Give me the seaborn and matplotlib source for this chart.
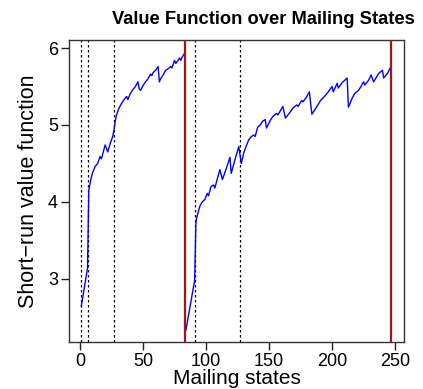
import matplotlib
matplotlib.use("Agg")
import matplotlib.pyplot as plt
import seaborn as sns
import pandas as pd

# First mailing block: state index and short-run value
seg1_state = [1, 6, 7, 8, 9, 10, 12, 14, 16, 17, 18, 20, 22, 24, 26, 27, 28, 29, 31, 33,
              35, 37, 38, 40, 42, 44, 46, 47, 48, 50, 52, 54, 56, 57, 58, 60, 62, 63, 64, 66,
              68, 70, 72, 73, 75, 76, 77, 79, 80, 81, 83]
seg1_value = [2.64, 3.14, 4.15, 4.24, 4.32, 4.38, 4.46, 4.50, 4.59, 4.56, 4.62, 4.74, 4.65, 4.76,
              4.85, 4.94, 5.05, 5.13, 5.22, 5.28, 5.33, 5.37, 5.33, 5.41, 5.46, 5.50, 5.56, 5.47,
              5.45, 5.51, 5.56, 5.60, 5.66, 5.64, 5.68, 5.71, 5.76, 5.56, 5.60, 5.65, 5.71, 5.73,
              5.76, 5.74, 5.84, 5.80, 5.82, 5.87, 5.84, 5.88, 5.93]

# Second mailing block
seg2_state = [84, 91, 92, 93, 95, 97, 99, 101, 102, 104, 106, 107, 109, 111, 113, 116, 119, 120,
              123, 126, 128, 130, 132, 134, 136, 138, 139, 141, 143, 145, 147, 148, 151, 153, 156,
              157, 161, 163, 166, 169, 172, 173, 176, 177, 180, 182, 184, 188, 191, 194, 197, 200,
              201, 204, 205, 208, 210, 212, 213, 216, 218, 221, 223, 225, 226, 229, 231, 233, 237,
              240, 241, 244, 247]
seg2_value = [2.33, 2.98, 3.74, 3.82, 3.94, 4.00, 4.03, 4.11, 4.08, 4.20, 4.22, 4.18, 4.30, 4.42,
              4.29, 4.43, 4.58, 4.37, 4.55, 4.72, 4.50, 4.64, 4.73, 4.81, 4.85, 4.87, 4.85, 4.97,
              5.00, 5.05, 5.07, 4.96, 5.06, 5.11, 5.15, 5.13, 5.24, 5.09, 5.15, 5.22, 5.26, 5.24,
              5.32, 5.30, 5.37, 5.43, 5.14, 5.24, 5.32, 5.37, 5.43, 5.50, 5.43, 5.54, 5.48, 5.55,
              5.58, 5.61, 5.23, 5.35, 5.41, 5.45, 5.50, 5.56, 5.52, 5.58, 5.65, 5.56, 5.67, 5.71,
              5.61, 5.67, 5.77]

# Marker positions within the state space
dotted_states = [1, 6, 27, 91, 127]
block_ends = [83, 247]

x_ticks = [0, 50, 100, 150, 200, 250]
y_ticks = [3, 4, 5, 6]

sns.set_theme(style="white")
plt.rcParams["font.family"] = ["Liberation Sans", "DejaVu Sans"]
plt.rcParams.update({"text.color": "black", "axes.labelcolor": "black",
                     "xtick.color": "black", "ytick.color": "black"})

fig = plt.figure(figsize=(4.23, 3.89), dpi=100)
ax = fig.add_axes([69 / 423, 1 - 342 / 389, (404 - 69) / 423, (342 - 40) / 389])

for xv in dotted_states:
    ax.axvline(xv, color="black", lw=0.9, linestyle=(0, (2, 2)), zorder=1)

df1 = pd.DataFrame({"state": seg1_state, "value": seg1_value})
df2 = pd.DataFrame({"state": seg2_state, "value": seg2_value})
sns.lineplot(data=df1, x="state", y="value", ax=ax, color="#0000ff", lw=1.0,
             estimator=None, sort=False, zorder=2)
sns.lineplot(data=df2, x="state", y="value", ax=ax, color="#0000ff", lw=1.0,
             estimator=None, sort=False, zorder=2)

for xv in block_ends:
    ax.axvline(xv, color="#a31414", lw=1.6, zorder=3)

ax.set_xlim(-8.7, 257.1)
ax.set_ylim(2.18, 6.104)
ax.set_xticks(x_ticks)
ax.set_yticks(y_ticks)
ax.tick_params(axis="both", direction="out", length=6, width=1, color="#222222",
               labelsize=13, pad=2, left=True, bottom=True)
for sp in ax.spines.values():
    sp.set_visible(True)
    sp.set_color("#333333")
    sp.set_linewidth(1.0)

ax.set_xlabel("Mailing states", fontsize=15, labelpad=-0.5)
ax.set_ylabel("Short\u2212run value function", fontsize=15.5, labelpad=6)
fig.text(263 / 423, 1 - 19 / 389, "Value Function over Mailing States",
         ha="center", va="center", fontsize=13.2, fontweight="bold")

fig.savefig("out.png", dpi=100)
